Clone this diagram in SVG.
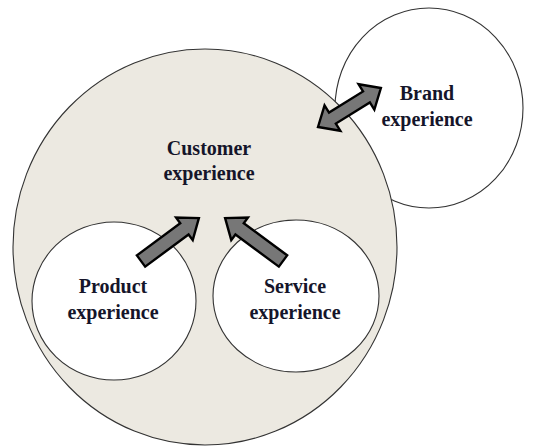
<svg xmlns="http://www.w3.org/2000/svg" width="544" height="447" viewBox="0 0 544 447">
<style>
.c{stroke:#333;stroke-width:1.1}
.w{fill:#fff}
.t{font-family:"Liberation Serif","Times New Roman",serif;font-weight:bold;font-size:20px;fill:#15152a;text-anchor:middle}
.a{fill:#777;stroke:#000;stroke-width:2.4;stroke-linejoin:miter}
</style>
<rect width="544" height="447" fill="#fff"/>
<g id="brand">
<ellipse class="c w" cx="429" cy="108" rx="94" ry="100"/>
</g>
<g id="customer">
<ellipse class="c" fill="#ece9e1" cx="205" cy="247" rx="192" ry="198"/>
<text class="t" x="209" y="155">Customer</text>
<text class="t" x="209" y="180">experience</text>
</g>
<g id="brand-label">
<text class="t" x="427" y="100">Brand</text>
<text class="t" x="427" y="126">experience</text>
</g>
<g id="product">
<ellipse class="c w" cx="114" cy="301" rx="82" ry="79"/>
<text class="t" x="113" y="293">Product</text>
<text class="t" x="113" y="319">experience</text>
</g>
<g id="service">
<ellipse class="c w" cx="296" cy="296" rx="83" ry="76"/>
<text class="t" x="295" y="293">Service</text>
<text class="t" x="295" y="319">experience</text>
</g>
<g id="connectors">
<polygon class="a" transform="translate(141,261) rotate(-36.5)" points="0,-7 54,-7 54,-14 72,0 54,14 54,7 0,7"/>
<polygon class="a" transform="translate(283,261) rotate(-143.5)" points="0,-7 54,-7 54,-14 72,0 54,14 54,7 0,7"/>
<polygon class="a" transform="translate(318,127) rotate(-31.8)" points="0,0 17,-15 17,-6.5 57,-6.5 57,-15 74,0 57,15 57,6.5 17,6.5 17,15"/>
</g>
</svg>
